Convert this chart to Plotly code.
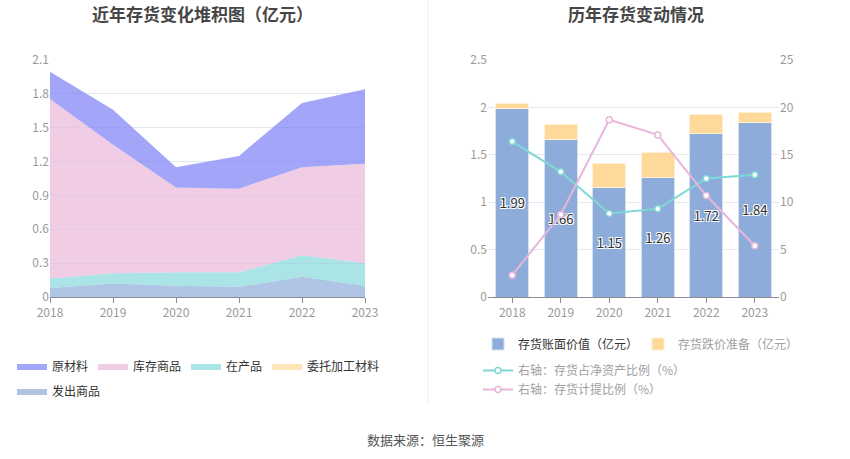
import plotly.graph_objects as go

years = ["2018", "2019", "2020", "2021", "2022", "2023"]

# 左图：存货构成（亿元）
raw_material = [0.24, 0.31, 0.18, 0.29, 0.57, 0.66]
finished_goods = [1.59, 1.14, 0.75, 0.74, 0.78, 0.88]
wip = [0.085, 0.09, 0.12, 0.13, 0.19, 0.20]
consigned = [0.0, 0.0, 0.0, 0.0, 0.0, 0.0]
shipped = [0.08, 0.12, 0.10, 0.09, 0.18, 0.10]

# 右图：存货变动
book_value = [1.99, 1.66, 1.15, 1.26, 1.72, 1.84]
impairment = [0.05, 0.16, 0.26, 0.26, 0.21, 0.11]
ratio_net_assets = [16.4, 13.2, 8.8, 9.3, 12.5, 12.9]
ratio_provision = [2.3, 8.7, 18.7, 17.1, 10.7, 5.4]

FONT = "Noto Sans CJK SC"
AXIS_TXT = "#9a9a9a"
GRID = "#e3e8f3"

fig = go.Figure()

# stack from bottom to top, legend order by legendrank
areas = [
    ("发出商品", shipped, "rgba(143,173,218,0.7)", "#8fadda", 5),
    ("委托加工材料", consigned, "rgba(255,217,153,0.7)", "#ffd999", 4),
    ("在产品", wip, "rgba(136,217,220,0.7)", "#88d9dc", 3),
    ("库存商品", finished_goods, "rgba(233,184,218,0.7)", "#e9b8da", 2),
    ("原材料", raw_material, "rgba(123,127,245,0.7)", "#7b7ff5", 1),
]
for name, vals, fill, line, rank in areas:
    fig.add_trace(go.Scatter(
        x=years, y=vals, name=name, stackgroup="inv",
        mode="lines", line=dict(width=0, color=line), fillcolor=fill,
        legend="legend2" if name == "发出商品" else "legend",
        legendrank=rank, hoverinfo="x+y+name",
        xaxis="x", yaxis="y",
    ))

# bars
fig.add_trace(go.Bar(
    x=years, y=book_value, name="存货账面价值（亿元）",
    marker=dict(color="#8eacda", line=dict(color="#d6e0f0", width=1)),
    text=[f"{v:.2f}" for v in book_value], textposition="inside",
    insidetextanchor="middle",
    textfont=dict(family=FONT, size=13, color="#333333",
                  shadow="1px 1px 0 #fff, -1px -1px 0 #fff, 1px -1px 0 #fff, -1px 1px 0 #fff"),
    width=0.68, xaxis="x2", yaxis="y2", legend="legend3",
))
fig.add_trace(go.Bar(
    x=years, y=impairment, name="存货跌价准备（亿元）",
    marker=dict(color="#ffd999", line=dict(color="#fff0d6", width=1)),
    width=0.68, xaxis="x2", yaxis="y2", legend="legend5",
))

fig.add_trace(go.Scatter(
    x=years, y=ratio_net_assets, name="右轴：存货占净资产比例（%）",
    mode="lines+markers", line=dict(color="#7fd8d6", width=2),
    marker=dict(symbol="circle", size=6, color="#ffffff",
                line=dict(color="#7fd8d6", width=1.5)),
    xaxis="x2", yaxis="y3", legend="legend4", legendgroup="a",
))
fig.add_trace(go.Scatter(
    x=years, y=ratio_provision, name="右轴：存货计提比例（%）",
    mode="lines+markers", line=dict(color="#e8b6dc", width=2),
    marker=dict(symbol="circle", size=6, color="#ffffff",
                line=dict(color="#e8b6dc", width=1.5)),
    xaxis="x2", yaxis="y3", legend="legend4", legendgroup="b",
))

axis_font = dict(family=FONT, size=12, color=AXIS_TXT)


def leg(x, y, color="#333333", orientation="h", **kw):
    return dict(x=x / 850, y=1 - y / 459, xanchor="left", yanchor="middle",
                orientation=orientation, traceorder="normal",
                font=dict(family=FONT, size=12, color=color),
                bgcolor="rgba(0,0,0,0)", itemwidth=30, itemclick=False, **kw)


fig.update_layout(
    width=850, height=459,
    margin=dict(l=0, r=0, t=0, b=0, autoexpand=False),
    paper_bgcolor="white", plot_bgcolor="white",
    barmode="stack", showlegend=True,
    font=dict(family=FONT),
    xaxis=dict(domain=[50 / 850, 365 / 850], type="category", range=[0, 5],
               showgrid=False, showline=True, linecolor="#8a8d96",
               ticks="outside", ticklen=5, tickcolor="#8a8d96",
               tickfont=axis_font, anchor="y"),
    yaxis=dict(domain=[162 / 459, 399 / 459], range=[0, 2.1], dtick=0.3,
               tickformat="~g", gridcolor=GRID, zeroline=False,
               tickfont=axis_font, ticks="", anchor="x"),
    xaxis2=dict(domain=[488 / 850, 779 / 850], type="category",
                showgrid=False, showline=True, linecolor="#8a8d96",
                ticks="outside", ticklen=5, tickcolor="#8a8d96",
                tickfont=axis_font, anchor="y2"),
    yaxis2=dict(domain=[162 / 459, 399 / 459], range=[0, 2.5], dtick=0.5,
                tickformat="~g", gridcolor=GRID, zeroline=False,
                tickfont=axis_font, anchor="x2"),
    yaxis3=dict(range=[0, 25], dtick=5, overlaying="y2", side="right",
                showgrid=False, zeroline=False, tickfont=axis_font,
                anchor="x2"),
    legend=leg(12, 366),
    legend2=leg(12, 391),
    legend3=leg(478, 344),
    legend5=leg(638, 344, color="#a0a0a0"),
    legend4=leg(478, 380, color="#a0a0a0", orientation="v", tracegroupgap=8),
    annotations=[
        dict(text="<b>近年存货变化堆积图（亿元）</b>", x=202 / 850, y=1 - 14 / 459,
             xref="paper", yref="paper", xanchor="center", yanchor="middle",
             showarrow=False, font=dict(family=FONT, size=17, color="#464646")),
        dict(text="<b>历年存货变动情况</b>", x=636 / 850, y=1 - 14 / 459,
             xref="paper", yref="paper", xanchor="center", yanchor="middle",
             showarrow=False, font=dict(family=FONT, size=17, color="#464646")),
        dict(text="数据来源：恒生聚源", x=0.5, y=1 - 439 / 459,
             xref="paper", yref="paper", xanchor="center", yanchor="middle",
             showarrow=False, font=dict(family=FONT, size=13, color="#555555")),
    ],
    shapes=[
        dict(type="line", xref="paper", yref="paper", x0=428 / 850, x1=428 / 850,
             y0=1 - 405 / 459, y1=1, line=dict(color="#eeeeee", width=1)),
    ],
)

# drop the default 8px body margin so the chart sits at the page corner
fig.write_html("out.html", config={"displayModeBar": False},
               post_script="document.body.style.margin='0';")
